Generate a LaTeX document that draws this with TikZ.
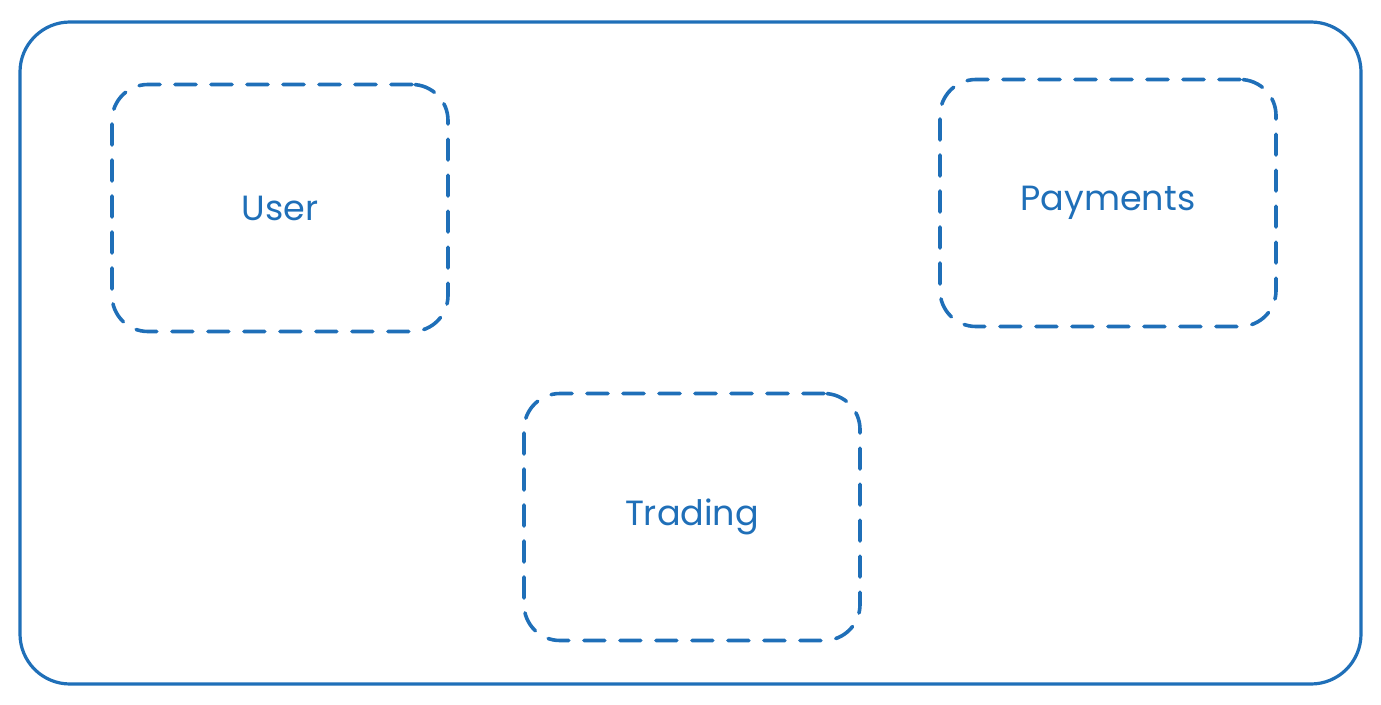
\documentclass[tikz,border=0pt]{standalone}
\usepackage{fontspec}
\setmainfont{Poppins}
\usepackage{tikz}
\usetikzlibrary{positioning}
\definecolor{sketchblue}{RGB}{31, 111, 184}

\tikzset{
	domainbox/.style={draw=sketchblue,line width=3.6pt,rounded corners=36pt,
		dash pattern=on 21pt off 15pt,line cap=round,
		minimum width=336pt,minimum height=247pt,
		text=sketchblue,font=\fontsize{35}{40}\selectfont},
}

\begin{document}
\begin{tikzpicture}[x=1pt,y=-1pt]
	\useasboundingbox (0,0) rectangle (1381,704);
	% outer system boundary
	\draw[sketchblue,line width=3.2pt,rounded corners=50pt] (20,22) rectangle (1361,684);

	% bounded contexts
	\node[domainbox] (user) at (280,208) {User};
	\node[domainbox] (payments) at (1108,203) {Payments};
	\node[domainbox] (trading) at (692,517) {Trading};
	%%%%%%%%%%%%%%%%%%%%%%%%%%%%%
\end{tikzpicture}
\end{document}
